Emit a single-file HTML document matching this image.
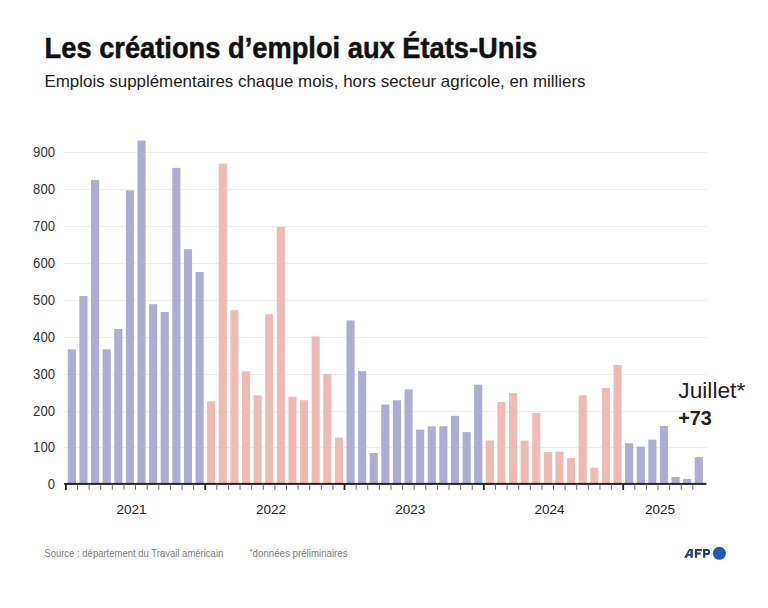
<!DOCTYPE html>
<html><head><meta charset="utf-8">
<style>
html,body{margin:0;padding:0;background:#fff;}
body{width:768px;height:608px;overflow:hidden;}
svg{display:block;}
text{font-family:"Liberation Sans", sans-serif;}
</style></head><body>
<svg width="768" height="608" viewBox="0 0 768 608">
<rect width="768" height="608" fill="#fff"/>

<rect x="64" y="447" width="643" height="1" fill="#ededed"/>
<rect x="64" y="411" width="643" height="1" fill="#ededed"/>
<rect x="64" y="374" width="643" height="1" fill="#ededed"/>
<rect x="64" y="337" width="643" height="1" fill="#ededed"/>
<rect x="64" y="300" width="643" height="1" fill="#ededed"/>
<rect x="64" y="263" width="643" height="1" fill="#ededed"/>
<rect x="64" y="226" width="643" height="1" fill="#ededed"/>
<rect x="64" y="189" width="643" height="1" fill="#ededed"/>
<rect x="64" y="152" width="643" height="1" fill="#ededed"/>
<text x="55" y="489.10" font-size="14" fill="#333" text-anchor="end" textLength="7.3" lengthAdjust="spacingAndGlyphs">0</text>
<text x="55" y="452.10" font-size="14" fill="#333" text-anchor="end" textLength="21.9" lengthAdjust="spacingAndGlyphs">100</text>
<text x="55" y="416.10" font-size="14" fill="#333" text-anchor="end" textLength="21.9" lengthAdjust="spacingAndGlyphs">200</text>
<text x="55" y="379.10" font-size="14" fill="#333" text-anchor="end" textLength="21.9" lengthAdjust="spacingAndGlyphs">300</text>
<text x="55" y="342.10" font-size="14" fill="#333" text-anchor="end" textLength="21.9" lengthAdjust="spacingAndGlyphs">400</text>
<text x="55" y="305.10" font-size="14" fill="#333" text-anchor="end" textLength="21.9" lengthAdjust="spacingAndGlyphs">500</text>
<text x="55" y="268.10" font-size="14" fill="#333" text-anchor="end" textLength="21.9" lengthAdjust="spacingAndGlyphs">600</text>
<text x="55" y="231.10" font-size="14" fill="#333" text-anchor="end" textLength="21.9" lengthAdjust="spacingAndGlyphs">700</text>
<text x="55" y="194.10" font-size="14" fill="#333" text-anchor="end" textLength="21.9" lengthAdjust="spacingAndGlyphs">800</text>
<text x="55" y="157.10" font-size="14" fill="#333" text-anchor="end" textLength="21.9" lengthAdjust="spacingAndGlyphs">900</text>
<rect x="67.80" y="349.30" width="8.15" height="134.70" fill="#abadd2"/>
<rect x="79.41" y="296.00" width="8.15" height="188.00" fill="#abadd2"/>
<rect x="91.02" y="180.10" width="8.15" height="303.90" fill="#abadd2"/>
<rect x="102.63" y="349.30" width="8.15" height="134.70" fill="#abadd2"/>
<rect x="114.24" y="329.00" width="8.15" height="155.00" fill="#abadd2"/>
<rect x="125.85" y="190.40" width="8.15" height="293.60" fill="#abadd2"/>
<rect x="137.46" y="140.50" width="8.15" height="343.50" fill="#abadd2"/>
<rect x="149.07" y="304.20" width="8.15" height="179.80" fill="#abadd2"/>
<rect x="160.68" y="312.00" width="8.15" height="172.00" fill="#abadd2"/>
<rect x="172.29" y="167.90" width="8.15" height="316.10" fill="#abadd2"/>
<rect x="183.90" y="249.20" width="8.15" height="234.80" fill="#abadd2"/>
<rect x="195.51" y="272.00" width="8.15" height="212.00" fill="#abadd2"/>
<rect x="207.12" y="401.30" width="8.15" height="82.70" fill="#eebbb4"/>
<rect x="218.73" y="163.60" width="8.15" height="320.40" fill="#eebbb4"/>
<rect x="230.34" y="310.20" width="8.15" height="173.80" fill="#eebbb4"/>
<rect x="241.95" y="371.50" width="8.15" height="112.50" fill="#eebbb4"/>
<rect x="253.56" y="395.40" width="8.15" height="88.60" fill="#eebbb4"/>
<rect x="265.17" y="314.20" width="8.15" height="169.80" fill="#eebbb4"/>
<rect x="276.78" y="226.90" width="8.15" height="257.10" fill="#eebbb4"/>
<rect x="288.39" y="396.70" width="8.15" height="87.30" fill="#eebbb4"/>
<rect x="300.00" y="400.20" width="8.15" height="83.80" fill="#eebbb4"/>
<rect x="311.61" y="336.40" width="8.15" height="147.60" fill="#eebbb4"/>
<rect x="323.22" y="374.10" width="8.15" height="109.90" fill="#eebbb4"/>
<rect x="334.83" y="437.60" width="8.15" height="46.40" fill="#eebbb4"/>
<rect x="346.44" y="320.40" width="8.15" height="163.60" fill="#abadd2"/>
<rect x="358.05" y="371.20" width="8.15" height="112.80" fill="#abadd2"/>
<rect x="369.66" y="453.10" width="8.15" height="30.90" fill="#abadd2"/>
<rect x="381.27" y="404.50" width="8.15" height="79.50" fill="#abadd2"/>
<rect x="392.88" y="400.30" width="8.15" height="83.70" fill="#abadd2"/>
<rect x="404.49" y="389.40" width="8.15" height="94.60" fill="#abadd2"/>
<rect x="416.10" y="429.70" width="8.15" height="54.30" fill="#abadd2"/>
<rect x="427.71" y="426.30" width="8.15" height="57.70" fill="#abadd2"/>
<rect x="439.32" y="426.20" width="8.15" height="57.80" fill="#abadd2"/>
<rect x="450.93" y="415.80" width="8.15" height="68.20" fill="#abadd2"/>
<rect x="462.54" y="432.10" width="8.15" height="51.90" fill="#abadd2"/>
<rect x="474.15" y="384.70" width="8.15" height="99.30" fill="#abadd2"/>
<rect x="485.76" y="440.40" width="8.15" height="43.60" fill="#eebbb4"/>
<rect x="497.37" y="402.10" width="8.15" height="81.90" fill="#eebbb4"/>
<rect x="508.98" y="393.10" width="8.15" height="90.90" fill="#eebbb4"/>
<rect x="520.59" y="440.50" width="8.15" height="43.50" fill="#eebbb4"/>
<rect x="532.20" y="412.80" width="8.15" height="71.20" fill="#eebbb4"/>
<rect x="543.81" y="452.10" width="8.15" height="31.90" fill="#eebbb4"/>
<rect x="555.42" y="451.70" width="8.15" height="32.30" fill="#eebbb4"/>
<rect x="567.03" y="457.90" width="8.15" height="26.10" fill="#eebbb4"/>
<rect x="578.64" y="395.30" width="8.15" height="88.70" fill="#eebbb4"/>
<rect x="590.25" y="467.70" width="8.15" height="16.30" fill="#eebbb4"/>
<rect x="601.86" y="388.00" width="8.15" height="96.00" fill="#eebbb4"/>
<rect x="613.47" y="365.00" width="8.15" height="119.00" fill="#eebbb4"/>
<rect x="625.08" y="443.20" width="8.15" height="40.80" fill="#abadd2"/>
<rect x="636.69" y="446.60" width="8.15" height="37.40" fill="#abadd2"/>
<rect x="648.30" y="439.70" width="8.15" height="44.30" fill="#abadd2"/>
<rect x="659.91" y="425.90" width="8.15" height="58.10" fill="#abadd2"/>
<rect x="671.52" y="477.00" width="8.15" height="7.00" fill="#abadd2"/>
<rect x="683.13" y="478.90" width="8.15" height="5.10" fill="#abadd2"/>
<rect x="694.74" y="457.05" width="8.15" height="26.95" fill="#abadd2"/>
<rect x="64.1" y="482.9" width="642.3" height="2" fill="#23232f"/>
<rect x="65.00" y="484" width="1.8" height="6" fill="#23232f"/>
<rect x="77.01" y="484" width="1" height="5.8" fill="#666"/>
<rect x="88.62" y="484" width="1" height="5.8" fill="#666"/>
<rect x="100.23" y="484" width="1" height="5.8" fill="#666"/>
<rect x="111.84" y="484" width="1" height="5.8" fill="#666"/>
<rect x="123.45" y="484" width="1" height="5.8" fill="#666"/>
<rect x="135.06" y="484" width="1" height="5.8" fill="#666"/>
<rect x="146.67" y="484" width="1" height="5.8" fill="#666"/>
<rect x="158.28" y="484" width="1" height="5.8" fill="#666"/>
<rect x="169.89" y="484" width="1" height="5.8" fill="#666"/>
<rect x="181.50" y="484" width="1" height="5.8" fill="#666"/>
<rect x="193.11" y="484" width="1" height="5.8" fill="#666"/>
<rect x="204.32" y="484" width="1.8" height="6" fill="#23232f"/>
<rect x="216.33" y="484" width="1" height="5.8" fill="#666"/>
<rect x="227.94" y="484" width="1" height="5.8" fill="#666"/>
<rect x="239.55" y="484" width="1" height="5.8" fill="#666"/>
<rect x="251.16" y="484" width="1" height="5.8" fill="#666"/>
<rect x="262.77" y="484" width="1" height="5.8" fill="#666"/>
<rect x="274.38" y="484" width="1" height="5.8" fill="#666"/>
<rect x="285.99" y="484" width="1" height="5.8" fill="#666"/>
<rect x="297.60" y="484" width="1" height="5.8" fill="#666"/>
<rect x="309.21" y="484" width="1" height="5.8" fill="#666"/>
<rect x="320.82" y="484" width="1" height="5.8" fill="#666"/>
<rect x="332.43" y="484" width="1" height="5.8" fill="#666"/>
<rect x="343.64" y="484" width="1.8" height="6" fill="#23232f"/>
<rect x="355.65" y="484" width="1" height="5.8" fill="#666"/>
<rect x="367.26" y="484" width="1" height="5.8" fill="#666"/>
<rect x="378.87" y="484" width="1" height="5.8" fill="#666"/>
<rect x="390.48" y="484" width="1" height="5.8" fill="#666"/>
<rect x="402.09" y="484" width="1" height="5.8" fill="#666"/>
<rect x="413.70" y="484" width="1" height="5.8" fill="#666"/>
<rect x="425.31" y="484" width="1" height="5.8" fill="#666"/>
<rect x="436.92" y="484" width="1" height="5.8" fill="#666"/>
<rect x="448.53" y="484" width="1" height="5.8" fill="#666"/>
<rect x="460.14" y="484" width="1" height="5.8" fill="#666"/>
<rect x="471.75" y="484" width="1" height="5.8" fill="#666"/>
<rect x="482.96" y="484" width="1.8" height="6" fill="#23232f"/>
<rect x="494.97" y="484" width="1" height="5.8" fill="#666"/>
<rect x="506.58" y="484" width="1" height="5.8" fill="#666"/>
<rect x="518.19" y="484" width="1" height="5.8" fill="#666"/>
<rect x="529.80" y="484" width="1" height="5.8" fill="#666"/>
<rect x="541.41" y="484" width="1" height="5.8" fill="#666"/>
<rect x="553.02" y="484" width="1" height="5.8" fill="#666"/>
<rect x="564.63" y="484" width="1" height="5.8" fill="#666"/>
<rect x="576.24" y="484" width="1" height="5.8" fill="#666"/>
<rect x="587.85" y="484" width="1" height="5.8" fill="#666"/>
<rect x="599.46" y="484" width="1" height="5.8" fill="#666"/>
<rect x="611.07" y="484" width="1" height="5.8" fill="#666"/>
<rect x="622.28" y="484" width="1.8" height="6" fill="#23232f"/>
<rect x="634.29" y="484" width="1" height="5.8" fill="#666"/>
<rect x="645.90" y="484" width="1" height="5.8" fill="#666"/>
<rect x="657.51" y="484" width="1" height="5.8" fill="#666"/>
<rect x="669.12" y="484" width="1" height="5.8" fill="#666"/>
<rect x="680.73" y="484" width="1" height="5.8" fill="#666"/>
<rect x="692.34" y="484" width="1" height="5.8" fill="#666"/>
<text x="131.5" y="514.3" font-size="13.5" fill="#222" text-anchor="middle">2021</text>
<text x="271" y="514.3" font-size="13.5" fill="#222" text-anchor="middle">2022</text>
<text x="410.2" y="514.3" font-size="13.5" fill="#222" text-anchor="middle">2023</text>
<text x="549.4" y="514.3" font-size="13.5" fill="#222" text-anchor="middle">2024</text>
<text x="659.9" y="514.3" font-size="13.5" fill="#222" text-anchor="middle">2025</text>
<text x="44.6" y="57.6" font-size="28.6" font-weight="bold" fill="#111" stroke="#111" stroke-width="0.5" textLength="492.6" lengthAdjust="spacingAndGlyphs">Les créations d’emploi aux États-Unis</text>
<text x="44.5" y="86.8" font-size="16.5" fill="#222" textLength="541" lengthAdjust="spacingAndGlyphs">Emplois supplémentaires chaque mois, hors secteur agricole, en milliers</text>
<text x="678.3" y="398.2" font-size="21.6" fill="#222" textLength="67" lengthAdjust="spacingAndGlyphs">Juillet*</text>
<text x="678.2" y="424.5" font-size="21" font-weight="bold" fill="#222" textLength="33.6" lengthAdjust="spacingAndGlyphs">+73</text>
<text x="44.3" y="556.7" font-size="10.5" fill="#7c7c7c" textLength="179" lengthAdjust="spacingAndGlyphs">Source : département du Travail américain</text>
<text x="249.6" y="554.2" font-size="8" fill="#7c7c7c">*</text>
<text x="252.6" y="556.7" font-size="10.5" fill="#7c7c7c" textLength="95" lengthAdjust="spacingAndGlyphs">données préliminaires</text>
<path fill="#213f78" fill-rule="evenodd" d="M684.1,557.7 L689.0,548.9 L692.8,548.9 L692.8,557.7 L690.4,557.7 L690.4,555.7 L688.0,555.7 L686.9,557.7 Z M688.3,554.0 L690.4,554.0 L690.4,550.6 L690.1,550.6 Z"/>
<path fill="#213f78" d="M694.9,548.9 L701.8,548.9 L701.8,551.0 L697.1,551.0 L697.1,552.6 L700.8,552.6 L700.8,554.6 L697.1,554.6 L697.1,557.7 L694.9,557.7 Z"/>
<path fill="#213f78" fill-rule="evenodd" d="M703.1,557.7 V548.9 H707.3 C709,548.9 710.2,550.1 710.2,551.9 C710.2,553.8 709,555.1 707.3,555.1 H705.3 V557.7 Z M705.3,550.9 H707 C707.6,550.9 708,551.3 708,551.95 C708,552.6 707.6,553.1 707,553.1 H705.3 Z"/>
<circle cx="719.4" cy="553.3" r="6.5" fill="#1f58b0"/>
</svg></body></html>
